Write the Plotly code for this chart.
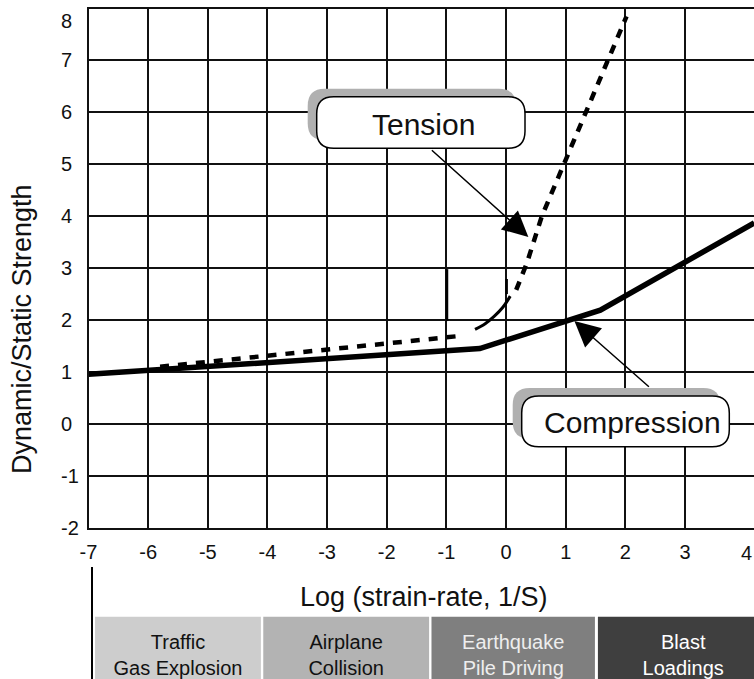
import plotly.graph_objects as go

# ---------------- data ----------------
x_ticks = [-7, -6, -5, -4, -3, -2, -1, 0, 1, 2, 3]
y_ticks = [-2, -1, 0, 1, 2, 3, 4, 5, 6, 7, 8]

comp_x = [-7.0, -0.44, 1.58, 4.16]
comp_y = [0.955, 1.45, 2.19, 3.87]

ten_low_x = [-5.8, -0.72]
ten_low_y = [1.10, 1.70]

ten_curve_x = [-0.52, -0.35, -0.20, -0.05, 0.07]
ten_curve_y = [1.82, 1.93, 2.07, 2.25, 2.46]

ten_high_x = [0.17, 0.35, 0.60, 0.97, 1.34, 1.69, 2.02]
ten_high_y = [2.58, 3.10, 4.00, 5.00, 6.00, 7.00, 7.85]

seg_x = [-0.99, -0.99, None, 0.01, 0.01]
seg_y = [1.98, 2.98, None, 2.50, 2.79]

band_labels = ["Traffic<br>Gas Explosion", "Airplane<br>Collision",
               "Earthquake<br>Pile Driving", "Blast<br>Loadings"]
band_start = [-6.89, -4.07, -1.25, 1.54]
band_end = [-4.11, -1.29, 1.49, 4.40]
band_colors = ["#cdcdcd", "#b3b3b3", "#7f7f7f", "#3f3f3f"]
band_text_colors = ["#111111", "#111111", "#eeeeee", "#ffffff"]

# ---------------- layout helpers ----------------
W, H = 754, 679
FONT = "Arial, Liberation Sans, sans-serif"


def X(p):
    return p / W


def Y(p):
    return 1 - p / H


def rrect(x0, y0, x1, y1, r):
    return (f"M {X(x0 + r)},{Y(y0)} L {X(x1 - r)},{Y(y0)} "
            f"Q {X(x1)},{Y(y0)} {X(x1)},{Y(y0 + r)} L {X(x1)},{Y(y1 - r)} "
            f"Q {X(x1)},{Y(y1)} {X(x1 - r)},{Y(y1)} L {X(x0 + r)},{Y(y1)} "
            f"Q {X(x0)},{Y(y1)} {X(x0)},{Y(y1 - r)} L {X(x0)},{Y(y0 + r)} "
            f"Q {X(x0)},{Y(y0)} {X(x0 + r)},{Y(y0)} Z")


x_dom = [88.5 / W, 1.0]
x_range = [-7, -7 + (754 - 88.5) / 59.65]
y_dom = [Y(527.7), Y(8.5)]

fig = go.Figure()

fig.add_trace(go.Scatter(x=comp_x, y=comp_y, mode="lines",
                         line=dict(color="black", width=5.5), hoverinfo="skip"))
fig.add_trace(go.Scatter(x=ten_low_x, y=ten_low_y, mode="lines",
                         line=dict(color="black", width=4.5, dash="9px,9px"),
                         hoverinfo="skip"))
fig.add_trace(go.Scatter(x=ten_curve_x, y=ten_curve_y, mode="lines",
                         line=dict(color="black", width=3, shape="spline"),
                         hoverinfo="skip"))
fig.add_trace(go.Scatter(x=ten_high_x, y=ten_high_y, mode="lines",
                         line=dict(color="black", width=4.5, dash="9px,8px"),
                         hoverinfo="skip"))
fig.add_trace(go.Scatter(x=seg_x, y=seg_y, mode="lines",
                         line=dict(color="black", width=2.5), hoverinfo="skip"))

# bottom bands
fig.add_trace(go.Bar(
    orientation="h", y=[0, 0, 0, 0],
    x=[e - s for s, e in zip(band_start, band_end)], base=band_start,
    width=1, marker=dict(color=band_colors, line=dict(width=0)),
    text=band_labels, textposition="inside", insidetextanchor="middle",
    textangle=0, constraintext="none",
    textfont=dict(family=FONT, size=20, color=band_text_colors),
    xaxis="x2", yaxis="y2", hoverinfo="skip"))

grid = dict(showgrid=True, gridcolor="#111111", gridwidth=2,
            showline=True, linecolor="#111111", linewidth=2, zeroline=False,
            automargin=False)

fig.update_layout(
    width=W, height=H, autosize=False, showlegend=False,
    margin=dict(l=0, r=0, t=0, b=0, pad=0, autoexpand=False),
    paper_bgcolor="white", plot_bgcolor="white",
    font=dict(family=FONT, color="#111111"),
    xaxis=dict(domain=x_dom, range=x_range, tickvals=x_ticks,
               ticktext=[str(v) for v in x_ticks], mirror=True,
               ticks="outside", ticklen=5, tickcolor="rgba(0,0,0,0)",
               tickfont=dict(size=20), anchor="y", **grid),
    yaxis=dict(domain=y_dom, range=[-2, 8], tickvals=y_ticks,
               showticklabels=False, mirror=False, anchor="x", **grid),
    xaxis2=dict(domain=x_dom, range=x_range, visible=False, anchor="y2",
                automargin=False),
    yaxis2=dict(domain=[0, 112 / H], range=[-0.3165, 1.1515], visible=False,
                anchor="x2", automargin=False),
)

shapes = [
    dict(type="line", xref="paper", yref="paper", x0=X(92), x1=X(92),
         y0=Y(567), y1=Y(679), line=dict(color="black", width=2)),
]
for (bx0, by0, bx1, by1) in [(316.7, 96.7, 525, 148.3), (521.7, 396, 729.3, 446.7)]:
    shapes.append(dict(type="path", xref="paper", yref="paper", layer="above",
                       path=rrect(bx0 - 9, by0 - 8, bx1 - 9, by1 - 8, 17),
                       fillcolor="#b0b0b0", line=dict(width=0)))
    shapes.append(dict(type="path", xref="paper", yref="paper", layer="above",
                       path=rrect(bx0, by0, bx1, by1, 17),
                       fillcolor="white", line=dict(color="black", width=1.5)))
fig.update_layout(shapes=shapes)

ann = [
    dict(text="Tension", xref="paper", yref="paper", x=X(423), y=Y(124.7),
         xanchor="center", yanchor="middle", showarrow=False,
         font=dict(size=30, color="#111111")),
    dict(text="Compression", xref="paper", yref="paper", x=X(632.5), y=Y(422.5),
         xanchor="center", yanchor="middle", showarrow=False,
         font=dict(size=30, color="#111111")),
    dict(text="", x=0.374, y=3.6, xref="x", yref="y", ax=-98, ay=-88,
         showarrow=True, arrowhead=2, arrowsize=3.4, arrowwidth=1.5,
         arrowcolor="black", standoff=0),
    dict(text="", x=1.146, y=1.98, xref="x", yref="y", ax=76, ay=67,
         showarrow=True, arrowhead=2, arrowsize=3.4, arrowwidth=1.5,
         arrowcolor="black", standoff=0),
    dict(text="Dynamic/Static Strength", xref="paper", yref="paper",
         x=X(22), y=Y(329), textangle=-90, showarrow=False,
         xanchor="center", yanchor="middle", font=dict(size=27)),
    dict(text="Log (strain-rate, 1/S)", xref="paper", yref="paper",
         x=X(423.7), y=Y(596.7), showarrow=False,
         xanchor="center", yanchor="middle", font=dict(size=27)),
    dict(text="4", xref="paper", yref="paper", x=1.0, y=Y(553),
         showarrow=False, xanchor="right", yanchor="middle",
         font=dict(size=20)),
]
# left-aligned y tick labels placed through the y axis scale
for v in y_ticks:
    ann.append(dict(text=str(v), xref="paper", yref="y", x=X(59), y=v,
                    xanchor="left",
                    yanchor="top" if v == max(y_ticks) else "middle",
                    showarrow=False, font=dict(size=20)))
fig.update_layout(annotations=ann)

fig.write_html("out.html", config={"displayModeBar": False},
               post_script="document.body.style.margin='0';"
                           "document.body.style.overflow='hidden';")
